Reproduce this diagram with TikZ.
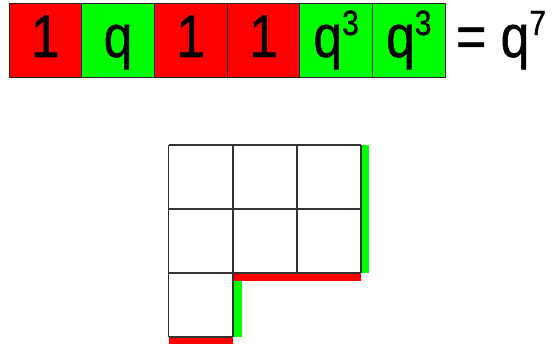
\documentclass[tikz,border=0pt]{standalone}
\usepackage{fontspec}
\setmainfont{Liberation Sans}
\newfontfamily\narrowf[FakeStretch=0.86,FakeBold=0.8]{Liberation Sans}
\definecolor{cred}{RGB}{255,0,0}
\definecolor{cgreen}{RGB}{0,255,0}
\definecolor{gridc}{RGB}{50,50,50}
\newcommand{\bigf}{\narrowf\fontsize{60}{60}\selectfont}
\newcommand{\supq}[1]{\raisebox{22pt}{\fontsize{35}{35}\selectfont #1}}
\begin{document}
\begin{tikzpicture}[x=1pt,y=-1pt,
  cell/.style={draw=gridc!70!black,line width=1pt,minimum width=72.7pt,minimum height=73pt,
    inner sep=0pt,font=\bigf,text height=45pt,text depth=12pt},
  redc/.style={cell,fill=cred},
  greenc/.style={cell,fill=cgreen},
  gl/.style={draw=gridc,line width=1.7pt},
  gbar/.style={fill=cgreen,draw=none},
  rbar/.style={fill=cred,draw=none}]
\useasboundingbox (0,0) rectangle (559,345);
\node[redc]   (b1) at (45.35,40.5) {1};
\node[greenc] (b2) at (118.05,40.5) {q};
\node[redc]   (b3) at (190.75,40.5) {1};
\node[redc]   (b4) at (263.45,40.5) {1};
\node[greenc] (b5) at (336.15,40.5) {q\supq{3}};
\node[greenc] (b6) at (408.85,40.5) {q\supq{3}};
\node[anchor=base west,inner sep=0pt,font=\bigf] (eq) at (456,57) {= q\supq{7}};
% bars
\fill[gbar] (361,145) rectangle (369,273);
\fill[rbar] (233,273) rectangle (361,281);
\fill[gbar] (233,281) rectangle (241.5,337);
\fill[rbar] (169,337) rectangle (233,344);
% grid
\draw[gl] (168.5,145) -- (361,145);
\draw[gl] (168.5,208.7) -- (361,208.7);
\draw[gl] (168.5,272.7) -- (361,272.7);
\draw[gl] (168.5,336.7) -- (232.7,336.7);
\draw[gl] (168.5,145) -- (168.5,336.7);
\draw[gl] (232.7,145) -- (232.7,336.7);
\draw[gl] (297,145) -- (297,272.7);
\draw[gl] (361,145) -- (361,272.7);
\end{tikzpicture}
\end{document}
